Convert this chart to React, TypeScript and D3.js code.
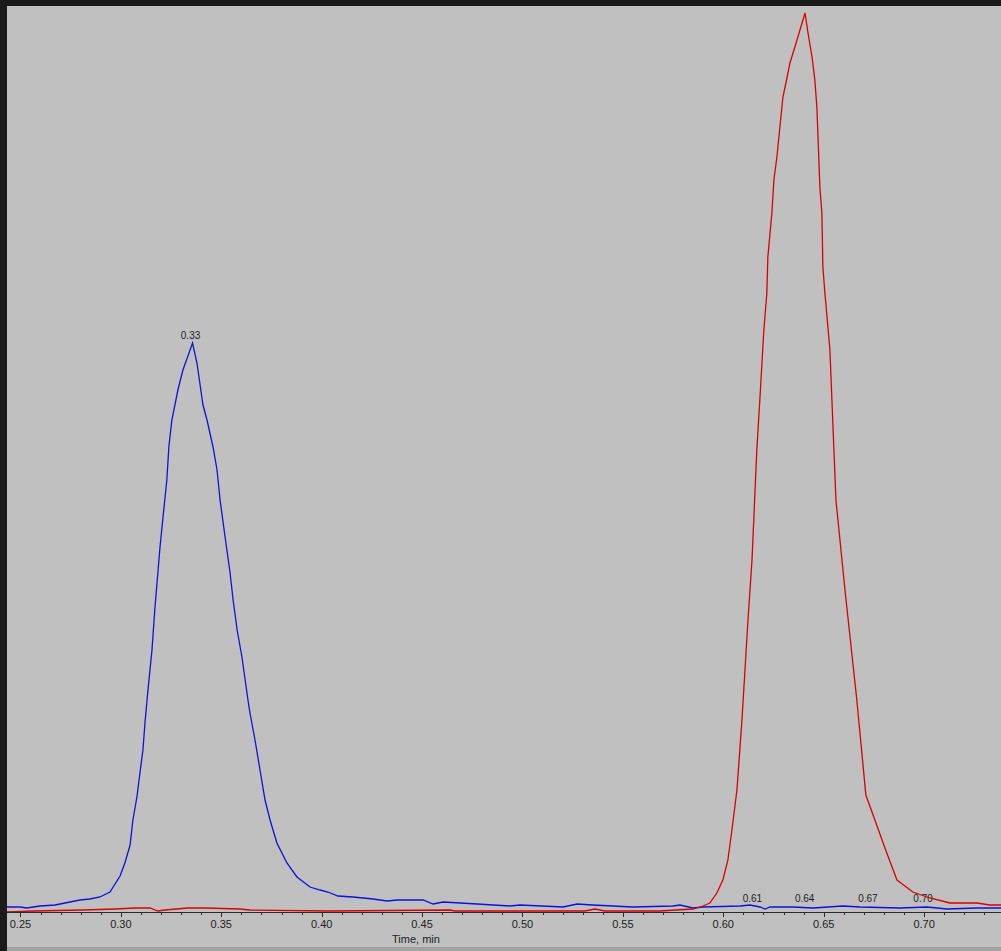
import React, { useRef, useEffect } from "react";
import * as d3 from "d3";

// blue trace (time, min / intensity, cps)
const blueTime = [
  0.2433, 0.2498, 0.2532, 0.2597, 0.2672, 0.2747, 0.2796, 0.2846, 0.2896, 0.2946,
  0.2996, 0.302, 0.3046, 0.306, 0.308, 0.3095, 0.311, 0.312, 0.3135, 0.3155,
  0.317, 0.318, 0.3195, 0.321, 0.3229, 0.3239, 0.3254, 0.3284, 0.3309, 0.3357,
  0.3379, 0.3409, 0.3429, 0.3459, 0.3479, 0.3494, 0.3519, 0.3544, 0.3559, 0.3579,
  0.3603, 0.3633, 0.3643, 0.3668, 0.3693, 0.3718, 0.3743, 0.3777, 0.3827, 0.3877,
  0.3942, 0.3992, 0.4031, 0.4081, 0.4156, 0.4256, 0.4326, 0.4376, 0.4505, 0.4555,
  0.4605, 0.4774, 0.4938, 0.4988, 0.5202, 0.5272, 0.5351, 0.555, 0.5749, 0.5784,
  0.5849, 0.5899, 0.6083, 0.6133, 0.6183, 0.6208, 0.6233, 0.6347, 0.6447, 0.6596,
  0.6681, 0.688, 0.7014, 0.7114, 0.7263, 0.7383,
];
const blueValue = [
  5000, 5000, 4000, 6000, 7000, 10000, 12000, 13000, 15000, 20000,
  36000, 49000, 67000, 92000, 115000, 139000, 162000, 189000, 222000, 262000,
  305000, 329000, 365000, 395000, 432000, 465000, 492000, 522000, 542000, 569000,
  549000, 507000, 492000, 465000, 442000, 412000, 375000, 339000, 312000, 282000,
  255000, 212000, 199000, 172000, 142000, 112000, 92000, 69000, 49000, 35000,
  25000, 22000, 20000, 16000, 15000, 13000, 11000, 12000, 12000, 8000,
  10000, 8000, 6000, 7000, 5000, 8000, 7000, 5000, 6000, 7000,
  4000, 5000, 6000, 7000, 5000, 3000, 5000, 5000, 4000, 6000,
  5000, 4000, 5000, 3000, 4000, 4000,
];

// red trace
const redTime = [
  0.2433, 0.2572, 0.2811, 0.297, 0.307, 0.3145, 0.3184, 0.3219, 0.3334, 0.3419,
  0.3593, 0.3643, 0.4041, 0.4639, 0.4663, 0.4888, 0.5311, 0.5361, 0.541, 0.5684,
  0.5849, 0.5899, 0.5933, 0.5968, 0.5998, 0.6023, 0.6043, 0.6068, 0.6093, 0.6123,
  0.6143, 0.6167, 0.6182, 0.6202, 0.6217, 0.6222, 0.6242, 0.6252, 0.6267, 0.6282,
  0.6297, 0.6317, 0.6332, 0.6367, 0.6407, 0.6422, 0.6442, 0.6456, 0.6466, 0.6471,
  0.6481, 0.6491, 0.6496, 0.6506, 0.6531, 0.6561, 0.6606, 0.6665, 0.671, 0.6755,
  0.6805, 0.6865, 0.6944, 0.7029, 0.7128, 0.7263, 0.7328, 0.7383,
];
const redValue = [
  0, 1000, 2000, 3000, 4000, 4000, 1000, 2000, 4000, 4000,
  3000, 2000, 1000, 2000, 1000, 1000, 1000, 3000, 1000, 1000,
  3000, 6000, 9000, 19000, 32000, 52000, 82000, 122000, 192000, 292000,
  352000, 462000, 512000, 582000, 619000, 655000, 699000, 732000, 755000, 785000,
  815000, 834000, 849000, 872000, 899000, 879000, 855000, 832000, 805000, 779000,
  725000, 699000, 645000, 619000, 562000, 412000, 322000, 212000, 117000, 92000,
  64000, 32000, 20000, 14000, 9000, 9000, 7000, 7000,
];

// peak apex labels on the blue trace
const peakLabels = ["0.33", "0.61", "0.64", "0.67", "0.70"];
const peakTimes = [0.3347, 0.6145, 0.6405, 0.672, 0.6995];

const majorTicks = [0.25, 0.3, 0.35, 0.4, 0.45, 0.5, 0.55, 0.6, 0.65, 0.7];

export default function App() {
  const svgRef = useRef<SVGSVGElement | null>(null);

  useEffect(() => {
    document.body.style.margin = "0";
    const width = 1001;
    const height = 951;
    const svg = d3.select(svgRef.current);
    svg.selectAll("*").remove();
    svg.attr("width", width).attr("height", height);

    // dark frame and gray plot panel
    svg.append("rect").attr("width", width).attr("height", height).attr("fill", "#1b1b1b");
    svg.append("rect").attr("x", 7).attr("y", 6).attr("width", width - 7).attr("height", 941).attr("fill", "#c0c0c0");
    svg.append("rect").attr("x", 7).attr("y", 947).attr("width", width - 7).attr("height", 4).attr("fill", "#a2a2a2");

    const x = d3.scaleLinear().domain([0.2433, 0.7383]).range([7, 1001]);
    const y = d3.scaleLinear().domain([0, 900000]).range([912, 12]);

    svg.append("defs").append("clipPath").attr("id", "plot")
      .append("rect").attr("x", 7).attr("y", 6).attr("width", width - 7).attr("height", 906);

    // x axis
    const axis = svg.append("g").attr("font-family", "Liberation Sans, Arial, sans-serif");
    axis.append("line").attr("x1", 7).attr("x2", width).attr("y1", 912.5).attr("y2", 912.5)
      .attr("stroke", "#2a2a2a").attr("stroke-width", 1);
    const minor = d3.range(25, 74).map((d) => d / 100);
    axis.selectAll(".minor").data(minor).enter().append("line")
      .attr("x1", (d) => Math.round(x(d)) + 0.5).attr("x2", (d) => Math.round(x(d)) + 0.5)
      .attr("y1", 912).attr("y2", (d) => (Math.round(d * 100) % 5 === 0 ? 917 : 915))
      .attr("stroke", "#2a2a2a");
    axis.selectAll(".lbl").data(majorTicks).enter().append("text")
      .attr("x", (d) => x(d)).attr("y", 928).attr("text-anchor", "middle")
      .attr("font-size", 11).attr("fill", "#222")
      .text((d) => d.toFixed(2));
    axis.append("text").attr("x", 416).attr("y", 943).attr("text-anchor", "middle")
      .attr("font-size", 11).attr("fill", "#222").text("Time, min");

    // peak labels
    const blueAt = (t: number) => {
      const i = d3.bisectLeft(blueTime, t);
      const j = Math.max(0, Math.min(i, blueTime.length - 1));
      return blueValue[j];
    };
    svg.append("g").attr("font-family", "Liberation Sans, Arial, sans-serif")
      .selectAll("text").data(peakLabels).enter().append("text")
      .attr("x", (_, i) => x(peakTimes[i]))
      .attr("y", (_, i) => (i === 0 ? y(blueAt(peakTimes[i])) - 4 : 902))
      .attr("text-anchor", "middle").attr("font-size", 10).attr("fill", "#222")
      .text((d) => d);

    const line = d3.line<number>()
      .x((d) => x(d))
      .y((_, i) => 0);

    const bluePts: [number, number][] = blueTime.map((t, i) => [x(t), y(blueValue[i])]);
    const redPts: [number, number][] = redTime.map((t, i) => [x(t), y(redValue[i])]);
    const path = d3.line();

    svg.append("path").attr("d", path(bluePts)).attr("fill", "none")
      .attr("stroke", "#1010d8").attr("stroke-width", 1.3).attr("clip-path", "url(#plot)");
    svg.append("path").attr("d", path(redPts)).attr("fill", "none")
      .attr("stroke", "#d80000").attr("stroke-width", 1.3).attr("clip-path", "url(#plot)");
    void line;
  }, []);

  return <svg ref={svgRef} style={{ display: "block" }}></svg>;
}
